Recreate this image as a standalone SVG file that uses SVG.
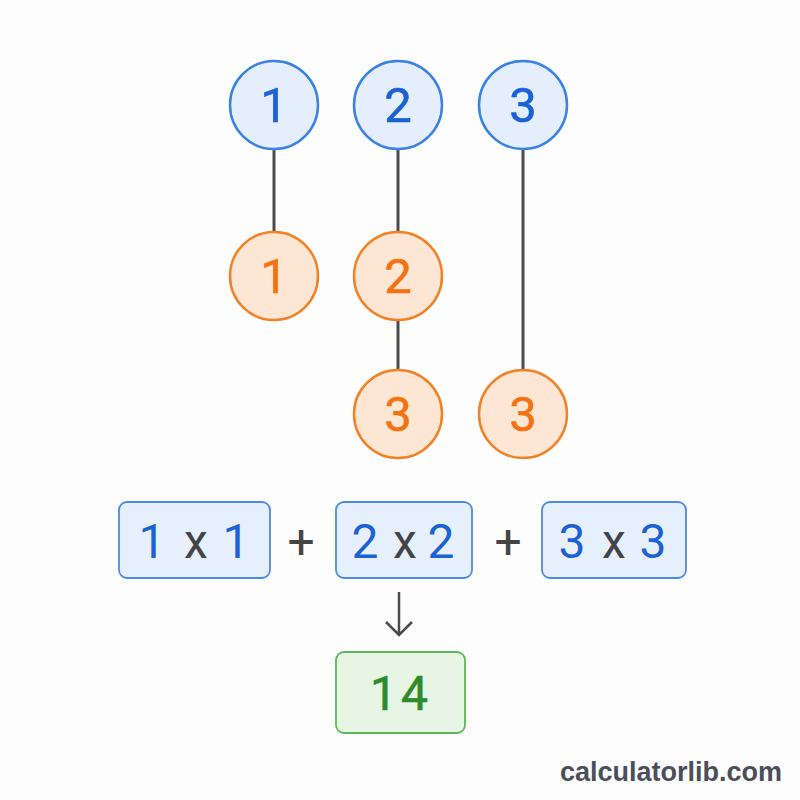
<svg xmlns="http://www.w3.org/2000/svg" width="800" height="800" viewBox="0 0 800 800">
<defs>
<style>
.bc{fill:#e4eefc;stroke:#3a82e4;stroke-width:2.5}
.oc{fill:#fde6d4;stroke:#f28226;stroke-width:2.5}
.bt{fill:#1c62d4;font-family:Roboto,"Liberation Sans",sans-serif;font-size:49px;text-anchor:middle;stroke:#1c62d4;stroke-width:0.6}
.ot{fill:#f27314;font-family:Roboto,"Liberation Sans",sans-serif;font-size:49px;text-anchor:middle;stroke:#f27314;stroke-width:0.6}
.box{fill:#e6f0fd;stroke:#4a8ce6;stroke-width:1.8}
.et{font-family:Roboto,"Liberation Sans",sans-serif;font-size:48px;text-anchor:middle}
.n{fill:#1c62d4}
.x{fill:#444}
.ln{stroke:#4a4a4f;stroke-width:3;fill:none}
</style>
</defs>
<rect width="800" height="800" fill="#fdfdfd"/>
<g id="connectors">
<line class="ln" x1="274" y1="149" x2="274" y2="232"/>
<line class="ln" x1="398" y1="149" x2="398" y2="232"/>
<line class="ln" x1="398" y1="320" x2="398" y2="370"/>
<line class="ln" x1="523" y1="149" x2="523" y2="370"/>
<path d="M399 592 V635 M386 622 L399 635 L412 622" stroke="#4a4a4f" stroke-width="2.5" fill="none"/>
</g>
<g id="top1"><circle class="bc" cx="274" cy="105" r="44"/><text class="bt" x="274" y="122">1</text></g>
<g id="top2"><circle class="bc" cx="398" cy="105" r="44"/><text class="bt" x="398" y="122">2</text></g>
<g id="top3"><circle class="bc" cx="523" cy="105" r="44"/><text class="bt" x="523" y="122">3</text></g>
<g id="mid1"><circle class="oc" cx="274" cy="276" r="44"/><text class="ot" x="274" y="293">1</text></g>
<g id="mid2"><circle class="oc" cx="398" cy="276" r="44"/><text class="ot" x="398" y="293">2</text></g>
<g id="bot2"><circle class="oc" cx="398" cy="414" r="44"/><text class="ot" x="398" y="431">3</text></g>
<g id="bot3"><circle class="oc" cx="523" cy="414" r="44"/><text class="ot" x="523" y="431">3</text></g>
<g id="term1"><rect class="box" x="119" y="502" width="151" height="76" rx="8"/>
<text class="et" y="558"><tspan class="n" x="152">1</tspan><tspan class="x" x="196">x</tspan><tspan class="n" x="236">1</tspan></text></g>
<text class="et x" x="301" y="558">+</text>
<g id="term2"><rect class="box" x="336" y="502" width="136" height="76" rx="8"/>
<text class="et" y="558"><tspan class="n" x="365">2</tspan><tspan class="x" x="405">x</tspan><tspan class="n" x="441">2</tspan></text></g>
<text class="et x" x="508" y="558">+</text>
<g id="term3"><rect class="box" x="542" y="502" width="144" height="76" rx="8"/>
<text class="et" y="558"><tspan class="n" x="572">3</tspan><tspan class="x" x="614">x</tspan><tspan class="n" x="653">3</tspan></text></g>
<g id="result"><rect x="336" y="652" width="129" height="81" rx="8" fill="#e7f5e5" stroke="#5cb85a" stroke-width="1.8"/>
<text x="401" y="710" font-family="Roboto,'Liberation Sans',sans-serif" font-size="48" fill="#2e8b2a" stroke="#2e8b2a" stroke-width="0.6" text-anchor="middle" letter-spacing="4">14</text></g>
<text x="782" y="781" font-family="'Liberation Sans',Arial,sans-serif" font-weight="bold" font-size="27" fill="#4a4f5a" text-anchor="end">calculatorlib.com</text>
</svg>
